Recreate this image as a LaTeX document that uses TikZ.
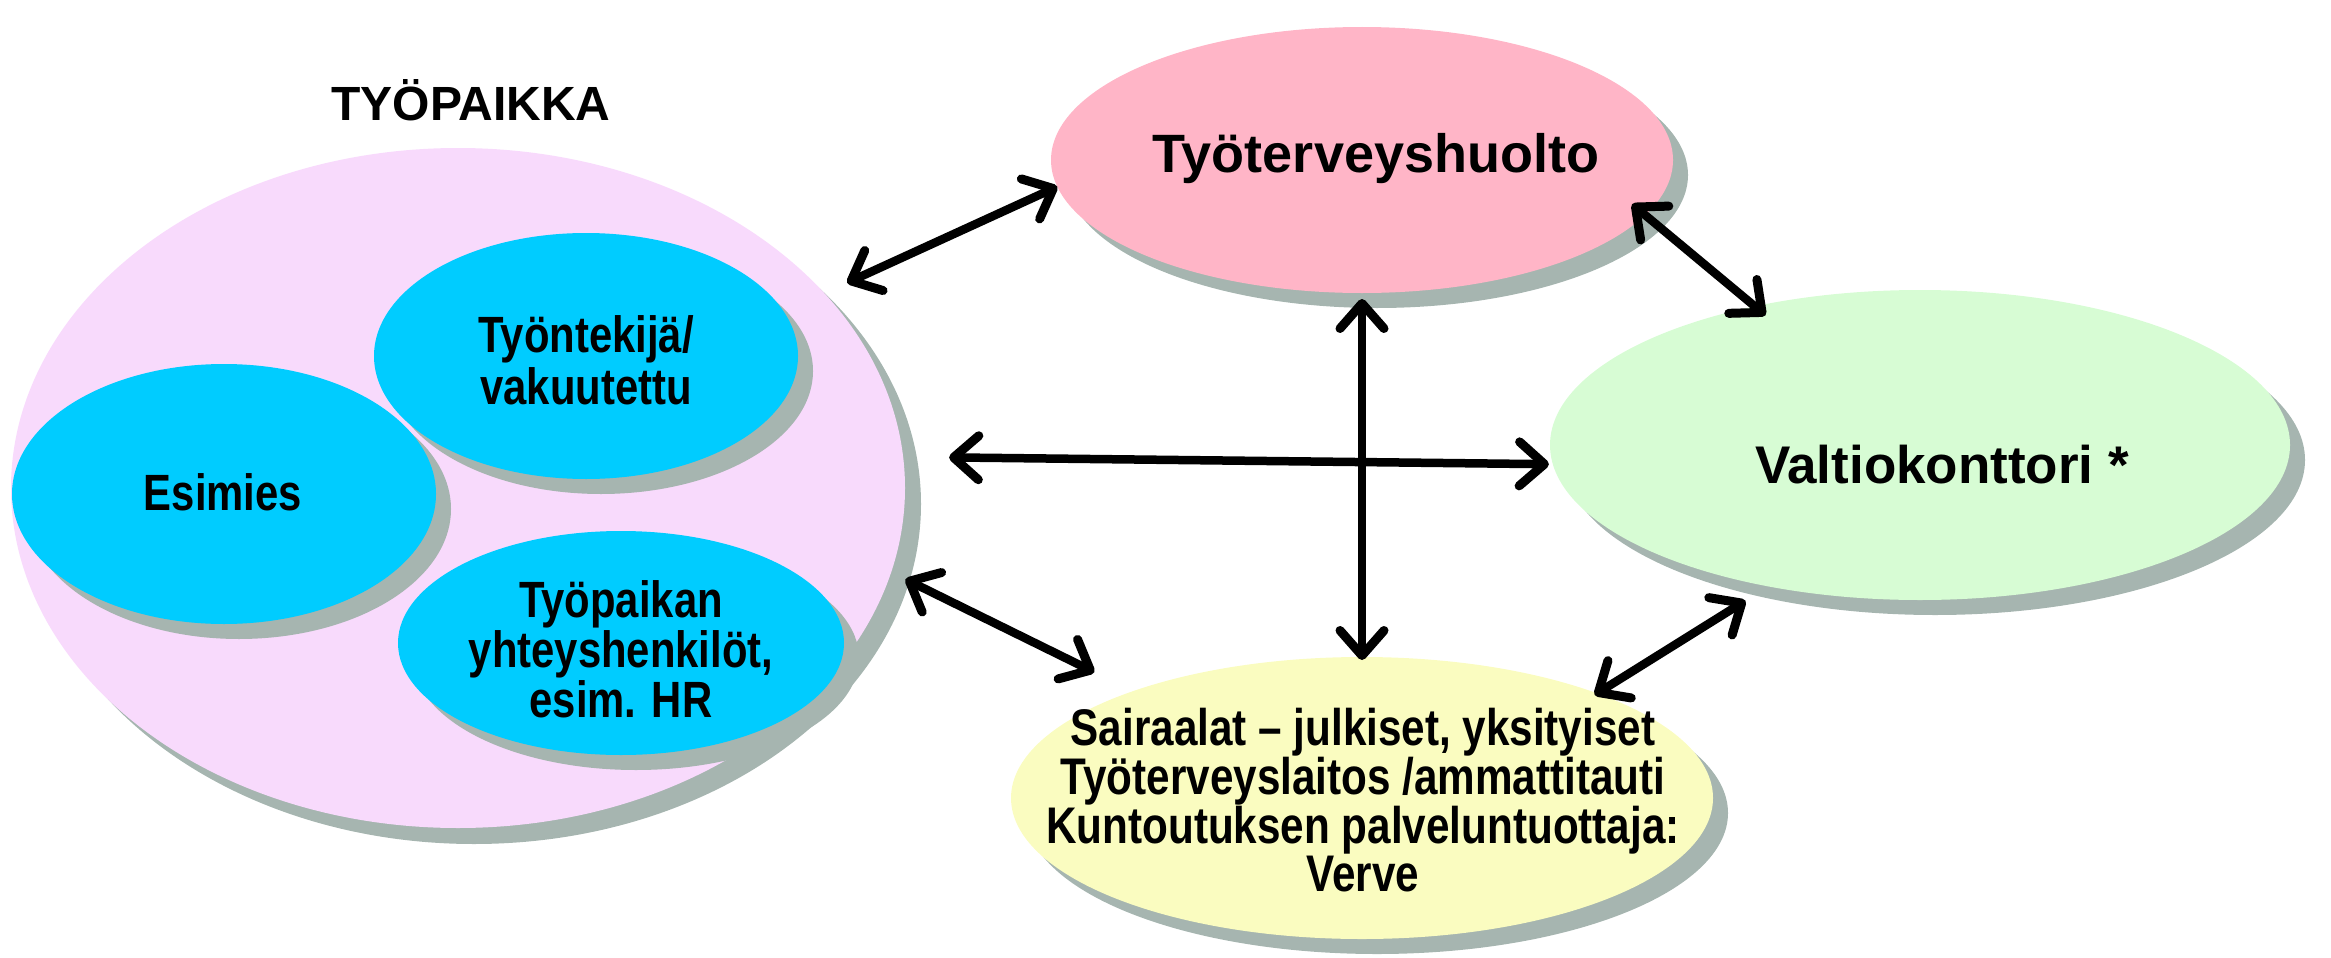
\documentclass[tikz,border=0pt]{standalone}
\usepackage{fontspec}
\setmainfont{Liberation Sans}
\newfontfamily\narrowfont{Liberation Sans}[FakeStretch=0.82]
\usetikzlibrary{arrows.meta,shapes.geometric}
\definecolor{shadowc}{RGB}{166,181,176}
\definecolor{workpink}{RGB}{248,218,252}
\definecolor{cyanb}{RGB}{0,204,255}
\definecolor{rosep}{RGB}{255,181,199}
\definecolor{mintg}{RGB}{215,252,212}
\definecolor{lemon}{RGB}{250,252,192}
\begin{document}
\begin{tikzpicture}[x=1pt,y=-1pt,
  blob/.style={ellipse, inner sep=0pt, outer sep=0pt},
  widetxt/.style={font=\fontsize{53}{60}\selectfont\bfseries, inner sep=0pt},
  narrowtxt/.style={font=\narrowfont\fontsize{51}{50}\selectfont\bfseries, align=center, inner sep=0pt},
  barb/.tip={Straight Barb[length=25pt,width=44pt,line width=9pt,round]},
  arr/.style={line width=8.5pt, barb-barb}
]
\useasboundingbox (0,0) rectangle (2331,958);
% workplace
\fill[shadowc] (474,504) ellipse [x radius=447pt, y radius=340pt];
\node[blob, fill=workpink, minimum width=894pt, minimum height=680pt] (tp) at (458,488) {};
\fill[shadowc] (601,371) ellipse [x radius=212pt, y radius=123pt];
\node[blob, fill=cyanb, minimum width=424pt, minimum height=246pt] (ten) at (586,356) {};
\fill[shadowc] (239,509) ellipse [x radius=212pt, y radius=130pt];
\node[blob, fill=cyanb, minimum width=424pt, minimum height=260pt] (esi) at (224,494) {};
\fill[shadowc] (636,658) ellipse [x radius=223pt, y radius=112pt];
\node[blob, fill=cyanb, minimum width=446pt, minimum height=224pt] (tyh) at (621,643) {};
% others
\fill[shadowc] (1377,175) ellipse [x radius=311pt, y radius=133pt];
\node[blob, fill=rosep, minimum width=622pt, minimum height=266pt] (tth) at (1362,160) {};
\fill[shadowc] (1935,460) ellipse [x radius=370pt, y radius=155pt];
\node[blob, fill=mintg, minimum width=740pt, minimum height=310pt] (vk) at (1920,445) {};
\fill[shadowc] (1377,813) ellipse [x radius=351pt, y radius=141pt];
\node[blob, fill=lemon, minimum width=702pt, minimum height=282pt] (sai) at (1362,798) {};
% texts
\node[font=\fontsize{48}{58}\selectfont\bfseries, inner sep=0pt, anchor=base] (tpt) at (471,120) {TYÖPAIKKA};
\node[widetxt, font=\fontsize{54}{60}\selectfont\bfseries, anchor=base] (ttht) at (1376,172) {Työterveyshuolto};
\node[widetxt, anchor=base] (vkt) at (1942,483) {Valtiokonttori *};
\node[narrowtxt, anchor=base] (esit) at (223,510) {Esimies};
\node[narrowtxt, font=\narrowfont\fontsize{51}{52}\selectfont\bfseries] (tent) at (586,360) {Työntekijä/\\vakuutettu};
\node[narrowtxt] (tyht) at (621,649) {Työpaikan\\yhteyshenkilöt,\\esim. HR};
\node[narrowtxt, font=\narrowfont\fontsize{51.5}{47.5}\selectfont\bfseries] (sait) at (1363,800) {Sairaalat – julkiset, yksityiset\\Työterveyslaitos /ammattitauti\\Kuntoutuksen palveluntuottaja:\\Verve};
% arrows
\draw[arr, shorten <=25pt] (tp.28) -- (tth.185);
\draw[arr, shorten <=-17pt, shorten >=-14pt] (tth.349) -- (vk.140);
\draw[arr, shorten <=6pt, shorten >=-3pt] (tth.270) -- (sai.90);
\draw[arr, shorten <=46pt, shorten >=4pt] (tp.4) -- (vk.183);
\draw[arr, shorten <=16pt, shorten >=43pt] (tp.349) -- (sai.155);
\draw[arr, shorten <=-3pt, shorten >=27pt] (sai.24) -- (vk.223);
\end{tikzpicture}
\end{document}
